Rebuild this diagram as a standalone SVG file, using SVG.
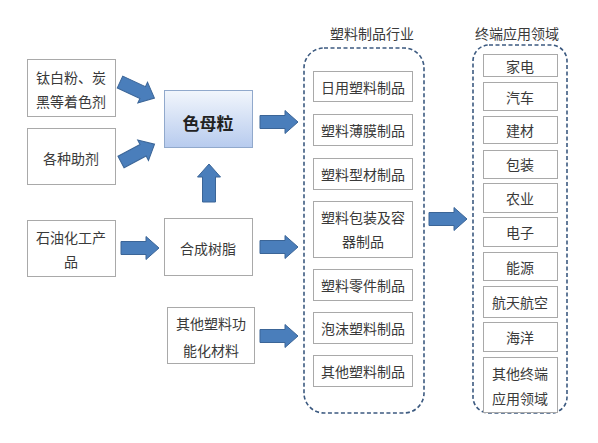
<svg xmlns="http://www.w3.org/2000/svg" width="598" height="443" viewBox="0 0 598 443">
<defs>
<linearGradient id="g" x1="0" y1="0" x2="0" y2="1">
<stop offset="0" stop-color="#f2f6fc"/>
<stop offset="1" stop-color="#b7cbee"/>
</linearGradient>
<path id="arr" d="M0,-6.5 H25 V-11.5 L38,0 L25,11.5 V6.5 H0 Z"/>
</defs>
<style>
text{font-family:"Noto Sans CJK SC","Noto Sans CJK TC",sans-serif;font-size:14px;fill:#3a3a3a;text-anchor:middle;dominant-baseline:central}
.b{fill:#fff;stroke:#a9a9a9;stroke-width:1}
.c{fill:none;stroke:#3c5a80;stroke-width:1.6;stroke-dasharray:4 2.5}
.a{fill:#4a7ebb;stroke:#3b6597;stroke-width:1}
.m{fill:url(#g);stroke:#91a9cc;stroke-width:1}
.big{font-size:17px;fill:#222;font-weight:bold}
</style>
<rect width="598" height="443" fill="#fff"/>
<g id="connectors">
<use href="#arr" class="a" transform="translate(120,82) rotate(25)"/>
<use href="#arr" class="a" transform="translate(121,162) rotate(-28)"/>
<use href="#arr" class="a" transform="translate(209,202) rotate(-90)"/>
<use href="#arr" class="a" transform="translate(260,122)"/>
<use href="#arr" class="a" transform="translate(121,248)"/>
<use href="#arr" class="a" transform="translate(260,247)"/>
<use href="#arr" class="a" transform="translate(260,336)"/>
<use href="#arr" class="a" transform="translate(429,219)"/>
</g>
<g id="n_colorant"><rect class="b" x="27.5" y="59.5" width="88" height="57"/><text x="71" y="77">钛白粉、炭</text><text x="71" y="101">黑等着色剂</text></g>
<g id="n_additive"><rect class="b" x="27.5" y="128.5" width="88" height="56"/><text x="71" y="158">各种助剂</text></g>
<g id="n_petro"><rect class="b" x="27.5" y="220.5" width="88" height="56"/><text x="71" y="237">石油化工产</text><text x="71" y="261">品</text></g>
<g id="n_masterbatch"><rect class="m" x="164.5" y="90.5" width="88" height="57"/><text class="big" x="208" y="122">色母粒</text></g>
<g id="n_resin"><rect class="b" x="164.5" y="218.5" width="88" height="57"/><text x="208" y="248">合成树脂</text></g>
<g id="n_func"><rect class="b" x="167.5" y="307.5" width="87" height="56"/><text x="211" y="323">其他塑料功</text><text x="211" y="350">能化材料</text></g>
<g id="n_plastics">
<text x="372" y="33">塑料制品行业</text>
<rect class="c" x="304" y="48" width="120" height="365" rx="20"/>
<rect class="b" x="313.5" y="71.5" width="99" height="30"/><text x="363" y="87">日用塑料制品</text>
<rect class="b" x="313.5" y="114.5" width="99" height="31"/><text x="363" y="130">塑料薄膜制品</text>
<rect class="b" x="313.5" y="158.5" width="99" height="31"/><text x="363" y="174">塑料型材制品</text>
<rect class="b" x="313.5" y="201.5" width="99" height="56"/><text x="363" y="217">塑料包装及容</text><text x="363" y="241">器制品</text>
<rect class="b" x="313.5" y="269.5" width="99" height="31"/><text x="363" y="285">塑料零件制品</text>
<rect class="b" x="313.5" y="312.5" width="99" height="31"/><text x="363" y="328">泡沫塑料制品</text>
<rect class="b" x="313.5" y="355.5" width="99" height="31"/><text x="363" y="371">其他塑料制品</text>
</g>
<g id="n_end">
<text x="517" y="33">终端应用领域</text>
<rect class="c" x="473" y="45" width="94" height="368" rx="16"/>
<rect class="b" x="483.5" y="54.5" width="74" height="22"/><text x="520" y="66">家电</text>
<rect class="b" x="483.5" y="82.5" width="74" height="28"/><text x="520" y="97">汽车</text>
<rect class="b" x="483.5" y="116.5" width="74" height="27"/><text x="520" y="130">建材</text>
<rect class="b" x="483.5" y="150.5" width="74" height="28"/><text x="520" y="164">包装</text>
<rect class="b" x="483.5" y="183.5" width="74" height="29"/><text x="520" y="198">农业</text>
<rect class="b" x="483.5" y="217.5" width="74" height="29"/><text x="520" y="232">电子</text>
<rect class="b" x="483.5" y="252.5" width="74" height="28"/><text x="520" y="267">能源</text>
<rect class="b" x="483.5" y="286.5" width="74" height="31"/><text x="520" y="302">航天航空</text>
<rect class="b" x="483.5" y="322.5" width="74" height="29"/><text x="520" y="337">海洋</text>
<rect class="b" x="483.5" y="357.5" width="74" height="55"/><text x="520" y="373">其他终端</text><text x="520" y="398">应用领域</text>
</g>
</svg>
